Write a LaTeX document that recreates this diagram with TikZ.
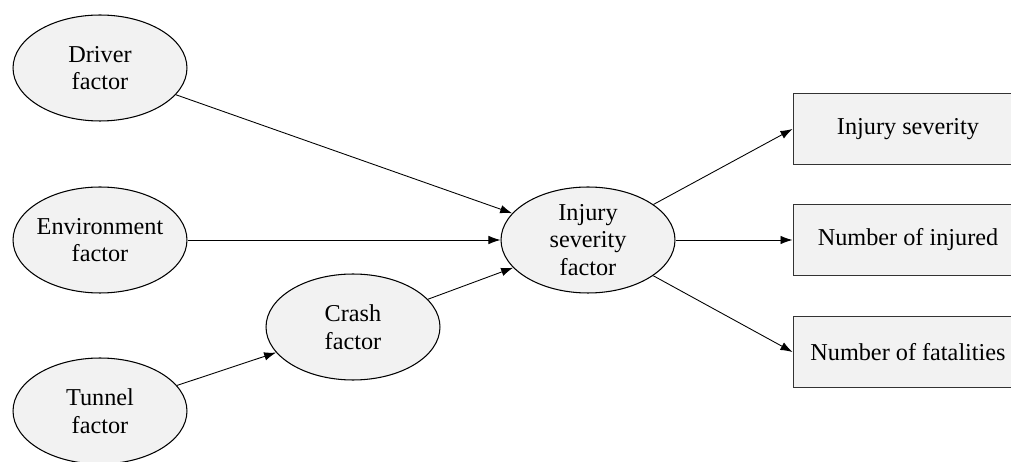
\documentclass[tikz,border=0pt]{standalone}
\usepackage{fontspec}
\setmainfont{Liberation Serif}
\usetikzlibrary{arrows.meta,positioning,shapes.geometric}

\begin{document}
\begin{tikzpicture}[x=0.02cm,y=-0.02cm,
  factor/.style={ellipse,draw=black,fill=boxfill,line width=0.6pt,minimum width=3.48cm,minimum height=2.12cm,inner sep=-0.1cm,align=center,font=\fontsize{13.8}{15.8}\selectfont},
  outcome/.style={rectangle,draw=black!80,fill=boxfill,line width=0.6pt,minimum width=4.6cm,minimum height=1.42cm,font=\fontsize{13.8}{15.8}\selectfont},
  link/.style={-{Latex[length=0.24cm,width=0.17cm]},line width=0.5pt}]
\definecolor{boxfill}{HTML}{F2F2F2}
\useasboundingbox (0,0) rectangle (1011,462);

\node[factor] (drv) at (100,68) {Driver\\factor};
\node[factor] (env) at (100,240) {Environment\\factor};
\node[factor] (tun) at (100,411) {Tunnel\\factor};
\node[factor] (crash) at (353,327) {Crash\\factor};
\node[factor] (isf) at (588,240) {Injury\\severity\\factor};

\draw[link] (drv) -- (isf);
\draw[link] (env) -- (isf);
\draw[link] (tun) -- (crash);
\draw[link] (crash) -- (isf);

% Outcome boxes on the right
\foreach \y/\nm/\txt in {129/sev/Injury severity,240/inj/Number of injured,352/fat/Number of fatalities} {
  \node[outcome] (\nm) at (908,\y) {\txt};
  \draw[link] (isf) -- (\nm.west);
}
\end{tikzpicture}
\end{document}
